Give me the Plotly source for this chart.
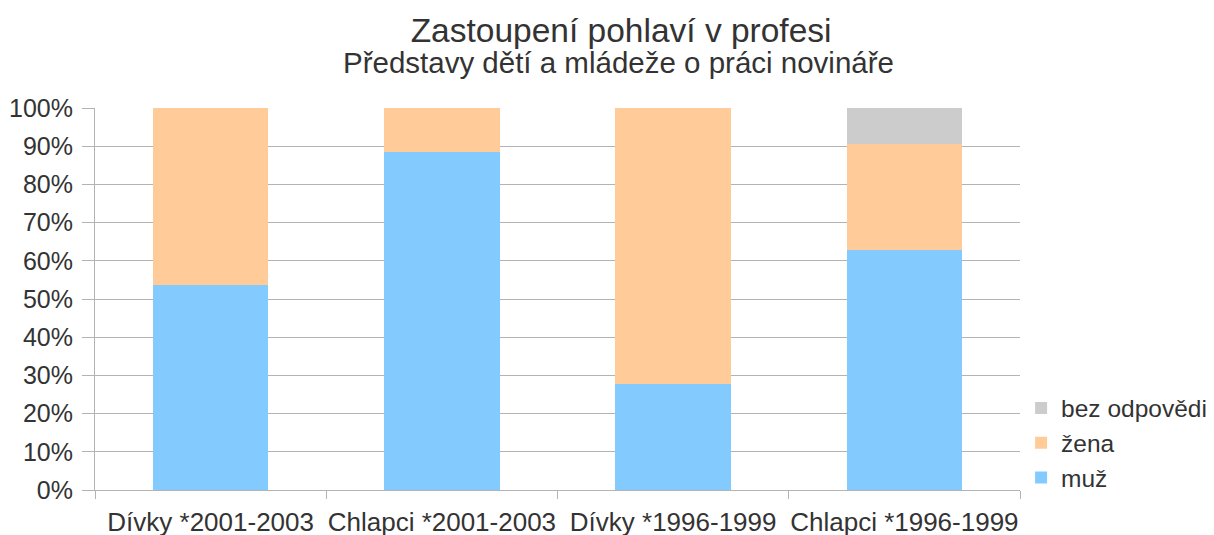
import plotly.graph_objects as go

categories = ["Dívky *2001-2003", "Chlapci *2001-2003", "Dívky *1996-1999", "Chlapci *1996-1999"]
muz = [53.7, 88.6, 27.7, 62.8]
zena = [46.3, 11.4, 72.3, 27.9]
bez_odpovedi = [0, 0, 0, 9.3]

FONT = "Liberation Sans, Arial, sans-serif"
TEXT = "#333333"

fig = go.Figure()
fig.add_bar(x=categories, y=muz, name="muž", marker_color="#83CAFF")
fig.add_bar(x=categories, y=zena, name="žena", marker_color="#FFCC99")
fig.add_bar(x=categories, y=bez_odpovedi, name="bez odpovědi", marker_color="#CCCCCC")

fig.update_traces(marker_line_width=0, hoverinfo="x+y+name")

fig.update_layout(
    barmode="stack",
    bargap=0.5,
    width=1214,
    height=535,
    margin=dict(l=87, r=202, t=100, b=53),
    paper_bgcolor="white",
    plot_bgcolor="white",
    font=dict(family=FONT, size=24, color=TEXT),
    title=dict(
        text="Zastoupení pohlaví v profesi",
        x=0.505, xanchor="center", y=0.958, yanchor="middle",
        font=dict(size=33.5, family=FONT, color=TEXT),
    ),
    annotations=[dict(
        text="Představy dětí a mládeže o práci novináře",
        xref="paper", yref="paper", x=0.566, y=1.12,
        xanchor="center", yanchor="middle", showarrow=False,
        font=dict(size=29.5, family=FONT, color=TEXT),
    )],
    legend=dict(
        traceorder="reversed",
        xref="container", yref="container",
        x=0.8345, xanchor="left", y=0.187, yanchor="middle",
        font=dict(size=24.5, family=FONT, color=TEXT),
        bgcolor="rgba(0,0,0,0)",
    ),
    xaxis=dict(
        showline=True, linecolor="#b3b3b3", linewidth=1,
        ticks="outside", tickson="boundaries", ticklen=8, tickcolor="#b3b3b3",
        tickfont=dict(size=26, color=TEXT),
        tickangle=0,
        ticklabelstandoff=9,
        showgrid=False,
        automargin=False,
    ),
    yaxis=dict(
        range=[0, 100], dtick=10, ticksuffix="%",
        showline=True, linecolor="#b3b3b3", linewidth=1,
        ticks="outside", ticklen=12, tickcolor="#b3b3b3",
        showgrid=True, gridcolor="#b3b3b3", gridwidth=1,
        tickfont=dict(size=25, color=TEXT),
        ticklabelstandoff=4,
        automargin=False,
    ),
)

fig.write_html("out.html")
